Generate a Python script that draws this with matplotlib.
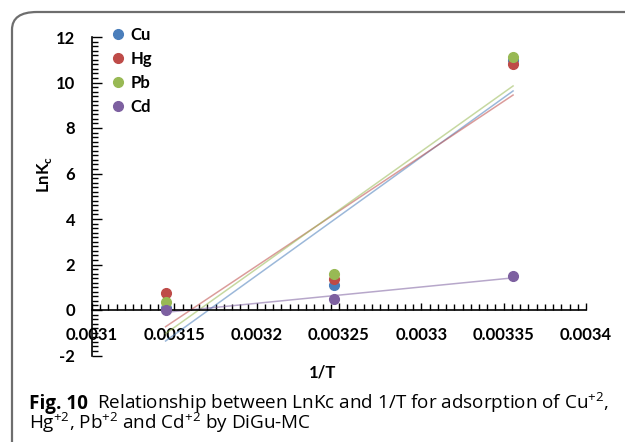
import numpy as np
import matplotlib.pyplot as plt
from matplotlib.patches import FancyBboxPatch
from matplotlib.ticker import MultipleLocator

plt.rcParams['mathtext.fontset'] = 'custom'
plt.rcParams['mathtext.rm'] = 'Open Sans'
plt.rcParams['mathtext.bf'] = 'Lato:bold'

# data
inv_T = [0.0031447, 0.0032468, 0.0033557]
metals = ['Cu', 'Hg', 'Pb', 'Cd']
lnkc = {
    'Cu': [0.10, 1.12, 11.00],
    'Hg': [0.73, 1.36, 10.82],
    'Pb': [0.33, 1.58, 11.13],
    'Cd': [-0.02, 0.47, 1.49],
}
colors = {'Cu': '#4a7ebb', 'Hg': '#be4b48', 'Pb': '#98b954', 'Cd': '#7d60a0'}
xticks = [0.0031, 0.00315, 0.0032, 0.00325, 0.0033, 0.00335, 0.0034]
xticklabels = ['0.0031', '0.00315', '0.0032', '0.00325', '0.0033', '0.00335', '0.0034']
yticks = [-2, 0, 2, 4, 6, 8, 10, 12]

W, H = 625, 442
fig = plt.figure(figsize=(W/100, H/100), dpi=100)

# rounded frame around the figure panel
frame = FancyBboxPatch((12/W, -0.2), 1.2, 1 - 12/H + 0.2, boxstyle='round,pad=0,rounding_size=0.04',
                       transform=fig.transFigure, fill=False, ec='#6e6e6e', lw=1.6)
fig.patches.append(frame)

ax = fig.add_axes([92/W, 1 - 355.5/H, (586-92)/W, (355.5-37)/H])
tickfont = dict(family='Lato', weight='bold', size=12)

for m in metals:
    ax.plot(inv_T, lnkc[m], 'o', color=colors[m], ms=7, label=m, zorder=3)
    k, b = np.polyfit(inv_T, lnkc[m], 1)
    xs = np.array([inv_T[0], inv_T[-1]])
    ax.plot(xs, k*xs + b, '-', color=colors[m], lw=1.1, alpha=0.55, zorder=2)

ax.set_xlim(0.0031, 0.0034)
ax.set_ylim(-2, 12)
ax.spines['top'].set_visible(False)
ax.spines['right'].set_visible(False)
ax.spines['bottom'].set_position(('data', 0))
ax.spines['left'].set_linewidth(1.2)
ax.spines['bottom'].set_linewidth(1.2)

ax.set_xticks(xticks)
ax.set_xticklabels(xticklabels, fontdict=tickfont)
ax.xaxis.set_minor_locator(MultipleLocator(0.000005))
ax.set_yticks(yticks)
ax.set_yticklabels([str(v) for v in yticks], fontdict=tickfont)
ax.yaxis.set_minor_locator(MultipleLocator(0.2))
ax.tick_params(axis='x', which='both', direction='in', pad=12, length=5, width=1)
ax.tick_params(axis='x', which='minor', length=4)
ax.tick_params(axis='y', which='major', direction='in', length=7, width=1, pad=12)
ax.tick_params(axis='y', which='minor', direction='in', length=4, width=1)

leg = ax.legend(loc='upper left', bbox_to_anchor=(105/W, 1 - 19/H), bbox_transform=fig.transFigure,
                frameon=False, handlelength=0.6, handletextpad=0.45, labelspacing=0.48,
                borderpad=0, prop=dict(family='Lato', weight='bold', size=12))

fig.text(45/W, 1 - 175/H, 'LnK$_\\mathbf{c}$', rotation=90, ha='center', va='center',
         family='Lato', weight='bold', size=12)
fig.text(323/W, 1 - 372/H, '1/T', ha='center', va='center', family='Lato', weight='bold', size=12)

# caption
capfont = dict(family='Open Sans', size=13.6)
t1 = fig.text(29/W, 1 - 409/H, 'Fig. 10', weight='bold', **capfont)
fig.canvas.draw()
bb = t1.get_window_extent()
fig.text((bb.x1 + 9)/W, 1 - 409/H,
         'Relationship between LnKc and 1/T for adsorption of Cu$^{+2}$,', **capfont)
fig.text(29/W, 1 - 429/H,
         'Hg$^{+2}$, Pb$^{+2}$ and Cd$^{+2}$ by DiGu-MC', **capfont)

fig.savefig('out.png', dpi=100)
